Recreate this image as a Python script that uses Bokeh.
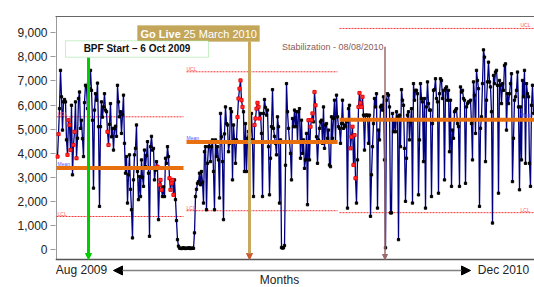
from bokeh.plotting import figure
from bokeh.models import (Range1d, LinearAxis, FixedTicker, NumeralTickFormatter, Label,
                          BoxAnnotation, Arrow, NormalHead, Span)
from bokeh.core.properties import value
from bokeh.embed import file_html
from bokeh.resources import INLINE

seg_aug_oct = [3860, 4790, 5850, 7440, 6340, 4960, 6130, 6230, 6130, 4550,
               3930, 5370, 5170, 4130, 5990, 3100, 4340, 4890, 6130, 3790,
               4620, 6270, 6540, 5030, 5370, 4600, 3860, 6100, 6820, 6750,
               5850, 6900, 6680, 7440, 6610, 5370, 2550, 5790, 6470, 6200,
               6910, 5100, 1790, 5100, 6130, 5500, 5920, 6470, 5790, 5720,
               4890, 4340, 5200, 6060, 4680, 5030, 4130, 5030, 5120, 4700,
               6820, 6130, 5510, 5720, 4820, 5600, 6410, 4410, 3170, 3860,
               1930, 3100, 3930, 2500, 1650, 480, 2890, 3930, 4200]
seg_nov_jan = [5170, 3240, 2070, 3030, 2200, 3720, 3000, 2620, 4130, 3440,
               3900, 4480, 3170, 550, 4270, 4700, 4130, 4200, 2890, 3300,
               3650, 3440, 1240, 2690, 2890, 2480, 2200, 2600, 2200, 3790,
               3580, 4270, 3860, 2960, 2480, 2750, 2890, 2270, 2890, 2070,
               1200, 410, 140, 60, 50, 40, 60, 70, 50, 40,
               60, 50, 60, 70, 40, 50, 60, 50, 690, 2200,
               2500, 2750, 2820, 3170, 2690, 3240, 2800, 1930, 4060, 4270,
               1650, 3580, 4270, 4480, 3650, 4270, 4550, 3240, 1650, 4550]
seg_feb_apr = [3860, 4270, 3720, 2140, 5650, 4680, 3650, 1240, 4800, 5920,
               5230, 5170, 4060, 4410, 5850, 5720, 2890, 5170, 4550, 3580,
               4550, 5500, 6270, 6680, 7020, 6200, 5920, 5720, 3240, 5230,
               3240, 4620, 4900, 4400, 4550, 5650, 4550, 2200, 5170, 5440,
               5850, 6090, 5920, 5440, 5650, 4820, 2200, 5650, 6230, 5900,
               5580, 5790, 4270, 2270, 3790, 5100, 6640, 5030, 4700, 4410,
               3930, 5510, 5100, 1930, 4550, 80, 60, 70, 165, 3500,
               6890, 5720, 5030, 4480, 3990, 2890, 5440, 5100, 5790, 5100]
seg_may_jul = [5720, 4480, 5720, 5850, 3790, 5370, 3990, 4550, 3370, 3720,
               4820, 1860, 5370, 3720, 5100, 5370, 5650, 5300, 6540, 5990,
               4680, 3580, 4550, 5030, 5300, 5370, 4410, 5920, 4200, 5170,
               5230, 4620, 4960, 3510, 3440, 5510, 4620, 5440, 6200, 4480,
               6410, 5510, 5100, 5030, 4410, 5230, 6200, 5030, 5170, 5100,
               5300, 1720, 5850, 5990, 4200, 4680, 5100, 3510, 4750, 2960,
               1930, 3720, 5920, 6500, 6090, 5920, 6340, 5580, 4130, 5580,
               5580, 5580, 4410, 5580, 1380, 3100, 4270, 5230, 6270, 5920]
seg_aug_oct10 = [6470, 1720, 4960, 4550, 5920, 5990, 5790, 6340, 3720, 70,
                 6200, 6470, 6410, 5920, 1520, 1520, 5650, 4890, 5370, 4890,
                 5720, 5510, 410, 5580, 4270, 6640, 6200, 5990, 4200, 2000,
                 3790, 5580, 5720, 4550, 5300, 5850, 1930, 6890, 6200, 6610,
                 6610, 6470, 2270, 4550, 6890, 6270, 6130, 3650, 6270, 1720,
                 5920, 6960, 6060, 5790, 5790, 2200, 5230, 6610, 6640, 7090,
                 6270, 6130, 2340, 6470, 7090, 7020, 6270, 6610, 2890, 6680,
                 6750, 6200, 6610, 4060, 6200, 2620, 4960, 4620, 5720, 5790]
seg_oct_dec10 = [5850, 5230, 5100, 2620, 6750, 6540, 6610, 6270, 6200, 2750,
                 5920, 6060, 6130, 6130, 6200, 5230, 3720, 6960, 6410, 4820,
                 7440, 7020, 6680, 1790, 5030, 5510, 6890, 8290, 7990, 3650,
                 6200, 6960, 7780, 6960, 6750, 5720, 1100, 7230, 6890, 7370,
                 7440, 6820, 2340, 7020, 6820, 6060, 6890, 6610, 7640, 7710,
                 4960, 6470, 6060, 6470, 6890, 7300, 2820, 4620, 6200, 6340,
                 6610, 7370, 5920, 2480, 5920, 3720, 7020, 6340, 7440, 3580,
                 6890, 6470, 6340, 3580, 2620, 5990, 6820, 5650]

values = (seg_aug_oct + seg_nov_jan + seg_feb_apr + seg_may_jul
          + seg_aug_oct10 + seg_oct_dec10)
obs = list(range(len(values)))

# observations flagged red (rule violations)
red_obs = [0, 1, 10, 11, 12, 13, 16, 17, 19, 50, 51,
           100, 102, 103, 104, 112, 113, 114, 115, 116,
           180, 181, 182, 183, 184, 185, 197, 198, 199, 200, 201, 202,
           251, 253, 254, 255, 257, 258,
           293, 294, 295, 296, 297, 298, 301, 302, 303, 304, 305]

# control limits per phase
phase_first = [-1, 129, 282]
phase_last = [126, 280, 477]
phase_mean = [3380, 4460, 5390]
phase_ucl = [5510, 7380, 9180]
phase_lcl = [1370, 1610, 1530]
label_obs = [0, 129, 463]

# events
bpf_obs = 31
golive_obs = 192
stab_obs = 327.5

y_ticks = [0, 1000, 2000, 3000, 4000, 5000, 6000, 7000, 8000, 9000]
x_tick_obs = [24, 446]
x_tick_text = ["Aug 2009", "Dec 2010"]

FONT = "Liberation Sans"
Y0, Y1 = -1578, 9676      # visible band (includes the caption strip under the axis)
AXIS_Y = -415             # where the horizontal axis line sits
CAPTION_Y = -872
TITLE_Y = -1280

p = figure(width=534, height=287, output_backend="svg", toolbar_location=None,
           x_range=Range1d(-2, 477), y_range=Range1d(Y0, Y1),
           min_border_left=55, min_border_right=0, min_border_top=16, min_border_bottom=0,
           outline_line_color=None, background_fill_color="white", border_fill_color="white")
p.xgrid.visible = False
p.ygrid.visible = False
p.xaxis.visible = False

# y axis (ticks + labels; its line is drawn as a segment so it stops at the x axis)
ya = p.yaxis[0]
ya.ticker = FixedTicker(ticks=y_ticks)
ya.formatter = NumeralTickFormatter(format="0,0")
ya.major_tick_out = 5
ya.major_tick_in = 0
ya.minor_tick_line_color = None
ya.axis_line_color = None
ya.major_tick_line_color = "#9a9a9a"
ya.major_label_text_font = FONT
ya.major_label_text_font_size = "12px"
ya.major_label_text_color = "#222222"
ya.major_label_standoff = 3

top = LinearAxis(ticker=FixedTicker(ticks=[]), axis_line_color="#666666",
                 major_tick_line_color=None, minor_tick_line_color=None,
                 major_label_text_font_size="0px")
p.add_layout(top, "above")

p.segment(x0=[-1], y0=[AXIS_Y], x1=[-1], y1=[Y1], line_color="#9a9a9a", line_width=1)
p.add_layout(Span(location=AXIS_Y, dimension="width", line_color="#555555", line_width=1.5))

# limits
p.segment(x0=phase_first, y0=phase_ucl, x1=phase_last, y1=phase_ucl,
          line_color="#ff3333", line_width=1, line_dash="2 1")
p.segment(x0=phase_first, y0=phase_lcl, x1=phase_last, y1=phase_lcl,
          line_color="#ff3333", line_width=1, line_dash="2 1")

# data
p.line(obs, values, line_color="#00007f", line_width=1.3)
p.scatter(obs, values, marker="square", size=2.3, fill_color="black", line_color="black")
p.scatter([obs[i] for i in red_obs], [values[i] for i in red_obs], marker="square",
          size=3.2, fill_color="#ff3030", line_color="#ff0000", line_width=0.8)

# means
p.segment(x0=phase_first, y0=phase_mean, x1=phase_last, y1=phase_mean,
          line_color="#e8700f", line_width=4)

# small limit labels
p.text(x=label_obs, y=phase_ucl, text=["UCL"] * 3, text_font=value(FONT), text_font_size="5px",
       text_color="#ff5555", text_baseline="bottom")
p.text(x=label_obs, y=phase_lcl, text=["LCL"] * 3, text_font=value(FONT), text_font_size="5px",
       text_color="#ff5555", text_baseline="bottom")
p.text(x=label_obs, y=[m + 60 for m in phase_mean], text=["Mean"] * 3, text_font=value(FONT),
       text_font_size="5px", text_color="#5555ff", text_baseline="bottom")

# event lines
p.add_layout(Arrow(end=NormalHead(size=6, fill_color="#00cc00", line_color="#00cc00"),
                   x_start=bpf_obs, y_start=7970, x_end=bpf_obs, y_end=AXIS_Y,
                   line_color="#00cc00", line_width=3))
p.add_layout(Arrow(end=NormalHead(size=6, fill_color="#d05a30", line_color="#d05a30"),
                   x_start=golive_obs, y_start=8640, x_end=golive_obs, y_end=AXIS_Y,
                   line_color="#c8a85e", line_width=3))
p.add_layout(Arrow(end=NormalHead(size=5, fill_color="#9c6b6b", line_color="#9c6b6b"),
                   x_start=stab_obs, y_start=8420, x_end=stab_obs, y_end=AXIS_Y,
                   line_color="#9c6b6b", line_width=1.5))

# event boxes
p.add_layout(BoxAnnotation(left=golive_obs - 112, right=golive_obs + 10, top=9300, bottom=8640,
                           fill_color="#c4a65b", fill_alpha=1, line_color="#c4a65b"))
p.add_layout(Label(x=golive_obs - 109, y=8970, text="Go Live", text_font=FONT,
                   text_font_size="11px", text_font_style="bold", text_color="white",
                   text_baseline="middle"))
p.add_layout(Label(x=golive_obs - 66, y=8970, text="25 March 2010", text_font=FONT,
                   text_font_size="11px", text_color="white", text_baseline="middle"))
p.add_layout(BoxAnnotation(left=bpf_obs - 23, right=bpf_obs + 120, top=8667, bottom=7986,
                           fill_color="white", fill_alpha=1, line_color="#44cc44", line_width=1))
p.add_layout(Label(x=bpf_obs + 48.5, y=8327, text="BPF Start \u2013 6 Oct 2009", text_font=FONT,
                   text_font_size="10px", text_font_style="bold", text_color="#111111",
                   text_align="center", text_baseline="middle"))
p.add_layout(Label(x=stab_obs - 1.5, y=8420, text="Stabilization - 08/08/2010", text_font=FONT,
                   text_font_size="9px", text_color="#8b5a5a", text_align="right",
                   text_baseline="middle"))

# caption strip under the axis: period ends, arrow, title
p.text(x=x_tick_obs, y=[CAPTION_Y] * 2, text=x_tick_text, text_font=value(FONT),
       text_font_size="12px", text_color="#222222", text_align="center", text_baseline="middle")
p.add_layout(Arrow(start=NormalHead(size=9, fill_color="black", line_color="black"),
                   end=NormalHead(size=9, fill_color="black", line_color="black"),
                   x_start=56, y_start=CAPTION_Y, x_end=413, y_end=CAPTION_Y,
                   line_color="#808080", line_width=1.5))
p.text(x=[222], y=[TITLE_Y], text=["Months"], text_font=value(FONT), text_font_size="12px",
       text_color="#222222", text_align="center", text_baseline="middle")

open("out.html", "w").write(file_html(p, INLINE))
